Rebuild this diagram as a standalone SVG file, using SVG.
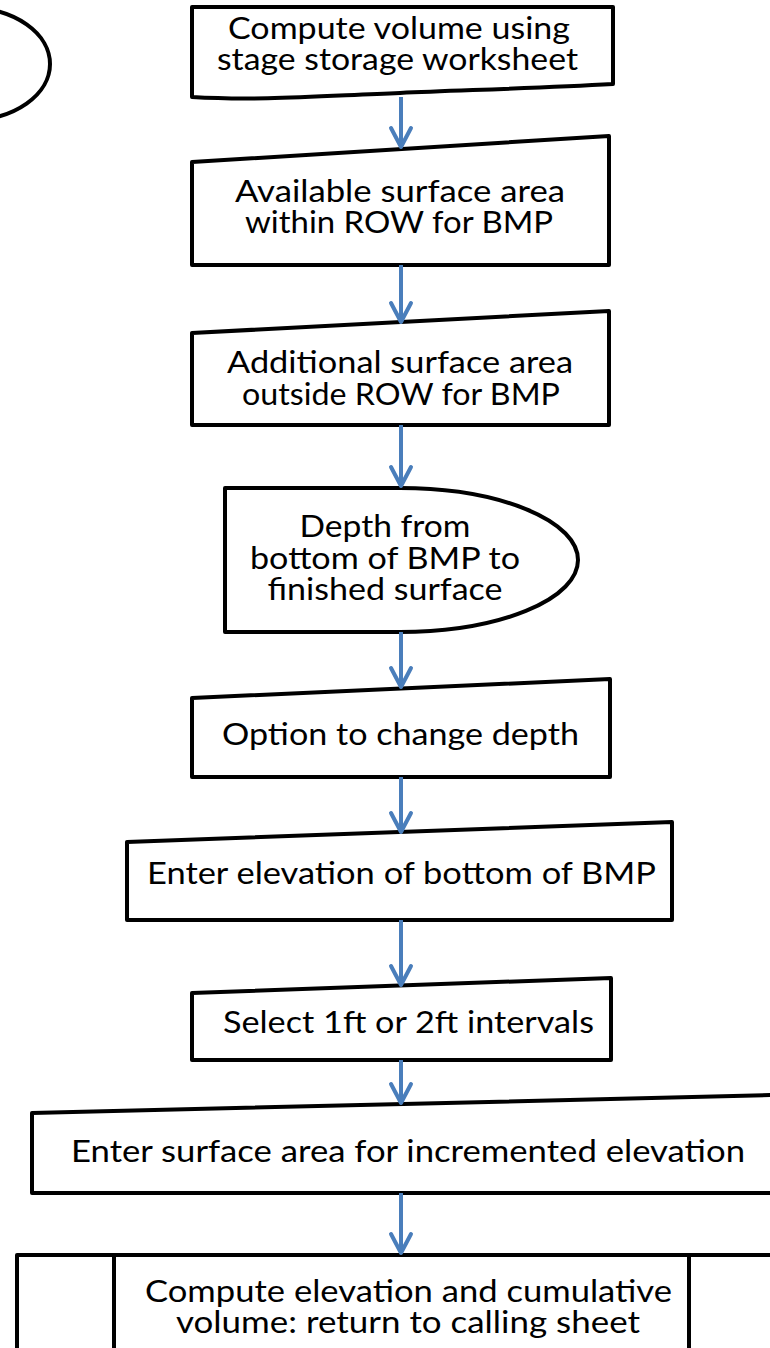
<svg xmlns="http://www.w3.org/2000/svg" width="770" height="1348" viewBox="0 0 770 1348">
  <style>
    .shape { fill: #ffffff; stroke: #000000; stroke-width: 4; stroke-linejoin: round; }
    .label { font-family: Lato, "Liberation Sans", sans-serif; font-size: 30px; fill: #000000; text-anchor: middle; }
    .flow { fill: none; stroke: #4a7ebb; stroke-width: 4; marker-end: url(#arrow); }
  </style>
  <defs>
    <marker id="arrow" viewBox="-22 -13 26 26" refX="0" refY="0" markerWidth="26" markerHeight="26" markerUnits="userSpaceOnUse" orient="auto">
      <path d="M-19,-10 L0,0 L-19,10" fill="none" stroke="#4a7ebb" stroke-width="4" stroke-linecap="round" stroke-linejoin="round"/>
    </marker>
  </defs>
  <rect width="770" height="1348" fill="#ffffff"/>

  <!-- terminator, mostly off the left edge -->
  <g id="start">
    <ellipse class="shape" cx="-30" cy="64" rx="80" ry="56"/>
  </g>

  <!-- document -->
  <g id="compute-volume">
    <path class="shape" d="M192,7 H613 V84 C 540,88 470,90 400,93 C 320,96 260,101 192,97 Z"/>
    <text class="label" x="399" y="39" textLength="342" lengthAdjust="spacingAndGlyphs">Compute volume using</text>
    <text class="label" x="397.5" y="70" textLength="361" lengthAdjust="spacingAndGlyphs">stage storage worksheet</text>
  </g>

  <!-- manual inputs -->
  <g id="area-within-row">
    <path class="shape" d="M192,162 L609,136 L609,265 L192,265 Z"/>
    <text class="label" x="400" y="202" textLength="330" lengthAdjust="spacingAndGlyphs">Available surface area</text>
    <text class="label" x="399" y="233" textLength="308" lengthAdjust="spacingAndGlyphs">within ROW for BMP</text>
  </g>

  <g id="area-outside-row">
    <path class="shape" d="M192,333 L609,311 L609,425 L192,425 Z"/>
    <text class="label" x="400" y="373" textLength="346" lengthAdjust="spacingAndGlyphs">Additional surface area</text>
    <text class="label" x="401" y="405" textLength="318" lengthAdjust="spacingAndGlyphs">outside ROW for BMP</text>
  </g>

  <!-- delay -->
  <g id="depth">
    <path class="shape" d="M225,488 H400 A178,72 0 0 1 400,632 H225 Z"/>
    <text class="label" x="385" y="537" textLength="171" lengthAdjust="spacingAndGlyphs">Depth from</text>
    <text class="label" x="385" y="569" textLength="270" lengthAdjust="spacingAndGlyphs">bottom of BMP to</text>
    <text class="label" x="385" y="600" textLength="235" lengthAdjust="spacingAndGlyphs">finished surface</text>
  </g>

  <g id="change-depth">
    <path class="shape" d="M192,698 L610,679 L610,777 L192,777 Z"/>
    <text class="label" x="400.5" y="745" textLength="357" lengthAdjust="spacingAndGlyphs">Option to change depth</text>
  </g>

  <g id="bottom-elevation">
    <path class="shape" d="M127,842 L672,822 L672,920 L127,920 Z"/>
    <text class="label" x="401.5" y="884" textLength="509" lengthAdjust="spacingAndGlyphs">Enter elevation of bottom of BMP</text>
  </g>

  <g id="intervals">
    <path class="shape" d="M192,993 L611,978 L611,1060 L192,1060 Z"/>
    <text class="label" x="408.5" y="1033" textLength="371" lengthAdjust="spacingAndGlyphs">Select 1ft or 2ft intervals</text>
  </g>

  <g id="incremented-area">
    <path class="shape" d="M32,1113 L774,1095 L774,1193 L32,1193 Z"/>
    <text class="label" x="408" y="1162" textLength="674" lengthAdjust="spacingAndGlyphs">Enter surface area for incremented elevation</text>
  </g>

  <!-- predefined process, running past the right and bottom edges -->
  <g id="compute-elevation">
    <rect class="shape" x="17" y="1255" width="760" height="110"/>
    <line class="shape" x1="114" y1="1255" x2="114" y2="1365"/>
    <line class="shape" x1="689" y1="1255" x2="689" y2="1365"/>
    <text class="label" x="408.5" y="1302" textLength="527" lengthAdjust="spacingAndGlyphs">Compute elevation and cumulative</text>
    <text class="label" x="408" y="1333" textLength="464" lengthAdjust="spacingAndGlyphs">volume: return to calling sheet</text>
  </g>

  <g id="connectors">
    <line class="flow" x1="401" y1="97" x2="401" y2="147"/>
    <line class="flow" x1="401" y1="265" x2="401" y2="322"/>
    <line class="flow" x1="401" y1="425" x2="401" y2="486"/>
    <line class="flow" x1="401" y1="632" x2="401" y2="687"/>
    <line class="flow" x1="401" y1="777" x2="401" y2="832"/>
    <line class="flow" x1="401" y1="920" x2="401" y2="985"/>
    <line class="flow" x1="401" y1="1060" x2="401" y2="1103"/>
    <line class="flow" x1="401" y1="1193" x2="401" y2="1253"/>
  </g>
</svg>
